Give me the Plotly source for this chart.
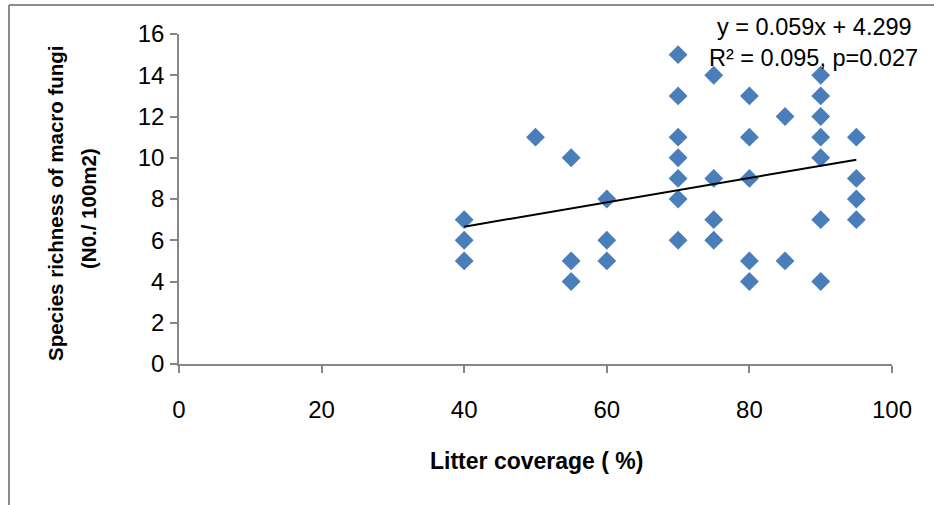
import plotly.graph_objects as go

# ---- data ----
litter_cover = [40, 40, 40,
                50,
                55, 55, 55,
                60, 60, 60,
                70, 70, 70, 70, 70, 70, 70,
                75, 75, 75, 75,
                80, 80, 80, 80, 80,
                85, 85,
                90, 90, 90, 90, 90, 90, 90,
                95, 95, 95, 95]
species_richness = [7, 6, 5,
                    11,
                    10, 5, 4,
                    8, 6, 5,
                    15, 13, 11, 10, 9, 8, 6,
                    14, 9, 7, 6,
                    13, 11, 9, 5, 4,
                    12, 5,
                    14, 13, 12, 11, 10, 7, 4,
                    11, 9, 8, 7]
trend_slope = 0.059
trend_intercept = 4.299
trend_label_lines = ["y = 0.059x + 4.299", "R² = 0.095, p=0.027"]
x_title = "Litter coverage ( %)"
y_title_lines = ["Species richness of macro fungi", "(N0./ 100m2)"]
x_ticks = [0, 20, 40, 60, 80, 100]
y_ticks = [0, 2, 4, 6, 8, 10, 12, 14, 16]

# ---- layout geometry (pixels) ----
W, H = 934, 505
L, R, T, B = 179, 892, 34, 364
pw, ph = R - L, B - T

def px(x):
    return (x - L) / pw

def py(y):
    return (B - y) / ph

xmin, xmax = min(litter_cover), max(litter_cover)
trend_x = [xmin, xmax]
trend_y = [trend_slope * v + trend_intercept for v in trend_x]

fig = go.Figure()
fig.add_trace(go.Scatter(
    x=litter_cover, y=species_richness, mode="markers",
    marker=dict(symbol="diamond", size=14.5, color="#4A7EBB", line=dict(width=0)),
    showlegend=False, hoverinfo="x+y"))
fig.add_trace(go.Scatter(
    x=trend_x, y=trend_y, mode="lines",
    line=dict(color="black", width=2), showlegend=False, hoverinfo="skip"))

FONT = "Liberation Sans, Arial, sans-serif"
axis_common = dict(showgrid=False, zeroline=False, showline=True,
                   linecolor="#868686", linewidth=1.5,
                   ticks="outside", ticklen=7, tickcolor="#868686", tickwidth=1.5,
                   tickfont=dict(family=FONT, size=24, color="black"))

fig.update_xaxes(range=[0, 100], tickvals=x_ticks, ticklabelstandoff=16, **axis_common)
fig.update_yaxes(range=[0, 16], tickvals=y_ticks, ticklabelstandoff=1, **axis_common)

annotations = [
    dict(text=trend_label_lines[0], x=px(814), y=py(27), xref="paper", yref="paper",
         showarrow=False, xanchor="center", yanchor="middle",
         font=dict(family=FONT, size=23.5, color="black")),
    dict(text=trend_label_lines[1], x=px(813), y=py(58), xref="paper", yref="paper",
         showarrow=False, xanchor="center", yanchor="middle",
         font=dict(family=FONT, size=23.5, color="black")),
    dict(text="<b>" + x_title + "</b>", x=px(536), y=py(461), xref="paper", yref="paper",
         showarrow=False, xanchor="center", yanchor="middle",
         font=dict(family=FONT, size=23, color="black")),
    dict(text="<b>" + y_title_lines[0] + "</b>", x=px(55), y=py(203), xref="paper", yref="paper",
         showarrow=False, xanchor="center", yanchor="middle", textangle=-90,
         font=dict(family=FONT, size=20.5, color="black")),
    dict(text="<b>" + y_title_lines[1] + "</b>", x=px(88), y=py(209), xref="paper", yref="paper",
         showarrow=False, xanchor="center", yanchor="middle", textangle=-90,
         font=dict(family=FONT, size=20.5, color="black")),
]

shapes = [
    dict(type="line", xref="paper", yref="paper", x0=px(9), x1=px(934), y0=py(5), y1=py(5),
         line=dict(color="#8C8C8C", width=2)),
    dict(type="line", xref="paper", yref="paper", x0=px(9), x1=px(9), y0=py(5), y1=py(505),
         line=dict(color="#8C8C8C", width=2)),
]

fig.update_layout(
    width=W, height=H,
    margin=dict(l=L, r=W - R, t=T, b=H - B),
    paper_bgcolor="white", plot_bgcolor="white",
    annotations=annotations, shapes=shapes,
    font=dict(family=FONT, color="black"),
)

fig.write_html("out.html", config={"displayModeBar": False},
               post_script="document.body.style.margin='0';")
